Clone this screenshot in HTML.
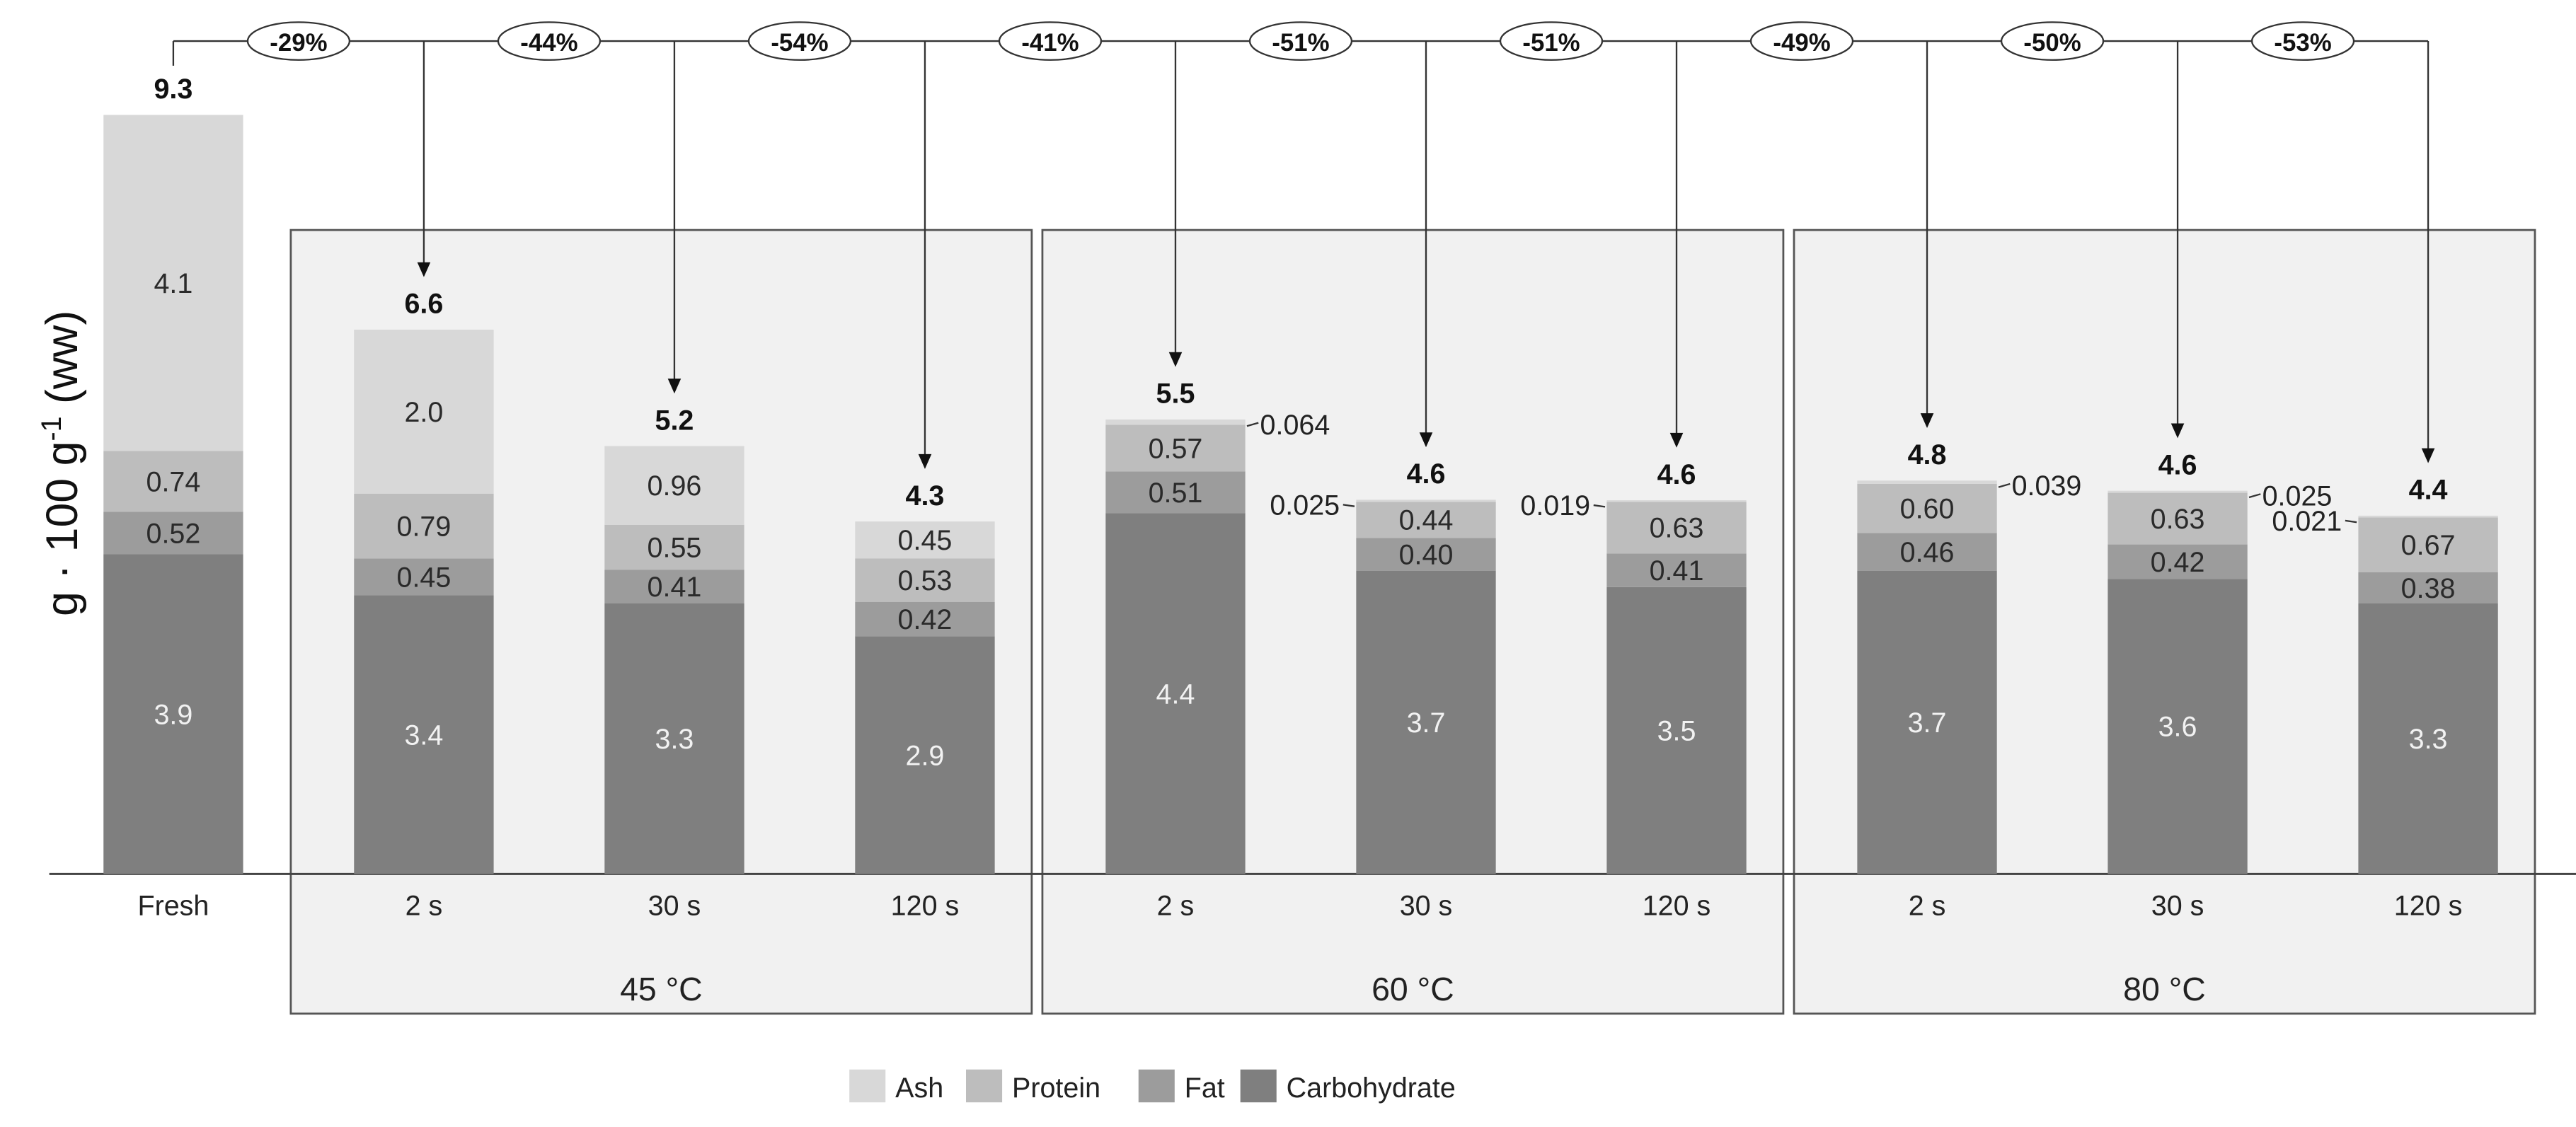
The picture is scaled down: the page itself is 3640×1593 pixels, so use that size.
<!DOCTYPE html>
<html><head><meta charset="utf-8"><style>
html,body{margin:0;padding:0;background:#fff;overflow:hidden;}
svg{display:block;font-family:"Liberation Sans",Arial,sans-serif;}
</style></head><body>
<svg id="chart" width="3640" height="1593" viewBox="0 0 1568 686" preserveAspectRatio="none" xmlns="http://www.w3.org/2000/svg">
<rect x="0" y="0" width="1568" height="686" fill="#fff"/>
<g id="boxes"></g>
<line x1="30" y1="532" x2="1568" y2="532" stroke="#444" stroke-width="1.3"/>
<g id="bars"></g>
<g id="connectors"></g>
<text transform="translate(47,282) rotate(-90)" text-anchor="middle" font-size="27" fill="#111">g · 100 g<tspan dy="-10" font-size="17">-1</tspan><tspan dy="10"> (ww)</tspan></text>
<g id="legend"></g>
</svg>
<script>
const categories = ["Fresh","2 s","30 s","120 s","2 s","30 s","120 s","2 s","30 s","120 s"];
const carbohydrate = [3.9,3.4,3.3,2.9,4.4,3.7,3.5,3.7,3.6,3.3];
const fat = [0.52,0.45,0.41,0.42,0.51,0.40,0.41,0.46,0.42,0.38];
const protein = [0.74,0.79,0.55,0.53,0.57,0.44,0.63,0.60,0.63,0.67];
const ash = [4.1,2.0,0.96,0.45,0.064,0.025,0.019,0.039,0.025,0.021];
const ashLabels = ["4.1","2.0","0.96","0.45","0.064","0.025","0.019","0.039","0.025","0.021"];
const carbLabels = ["3.9","3.4","3.3","2.9","4.4","3.7","3.5","3.7","3.6","3.3"];
const fatLabels = ["0.52","0.45","0.41","0.42","0.51","0.40","0.41","0.46","0.42","0.38"];
const proteinLabels = ["0.74","0.79","0.55","0.53","0.57","0.44","0.63","0.60","0.63","0.67"];
const totals = ["9.3","6.6","5.2","4.3","5.5","4.6","4.6","4.8","4.6","4.4"];
const changes = ["-29%","-44%","-54%","-41%","-51%","-51%","-49%","-50%","-53%"];
const smallAshSide = ["in","in","in","in","right","left","left","right","right","left"];
const groups = ["45 °C","60 °C","80 °C"];

const NS = "http://www.w3.org/2000/svg";
const baseY = 532, unit = 49.9, barW = 85;
const y = v => baseY - v * unit;
const xc = i => i === 0 ? 105.5 : 258 + (i - 1) * 152.5;
function mk(tag, attrs, parent, text) {
  const e = document.createElementNS(NS, tag);
  for (const k in attrs) e.setAttribute(k, attrs[k]);
  if (text !== undefined) e.textContent = text;
  parent.appendChild(e);
  return e;
}
const boxesG = document.getElementById('boxes');
const barsG = document.getElementById('bars');
const connG = document.getElementById('connectors');
const legG = document.getElementById('legend');

groups.forEach((g, gi) => {
  const x0 = xc(1 + gi * 3) - 81, x1 = xc(3 + gi * 3) + 65;
  const r = mk('rect', {x: x0, y: 140, width: x1 - x0, height: 477, fill: '#f1f1f1', stroke: '#555', 'stroke-width': 1.2}, boxesG);
  
  
  const t = mk('text', {x: (x0 + x1) / 2, y: 609, 'text-anchor': 'middle', 'font-size': 20, fill: '#222'}, boxesG, g);
  
  
});

const colors = {carb: '#7f7f7f', fat: '#9c9c9c', protein: '#bdbdbd', ash: '#d8d8d8'};
categories.forEach((c, i) => {
  const cx = xc(i), x0 = cx - barW / 2;
  const segs = [
    ['carb', carbohydrate[i], carbLabels[i], '#f2f2f2'],
    ['fat', fat[i], fatLabels[i], '#2a2a2a'],
    ['protein', protein[i], proteinLabels[i], '#2a2a2a'],
    ['ash', ash[i], ashLabels[i], '#2a2a2a']
  ];
  let cum = 0;
  segs.forEach(([k, v, lab, tc]) => {
    const yt = y(cum + v), yb = y(cum);
    const r = mk('rect', {x: x0, y: yt, width: barW, height: yb - yt, fill: colors[k]}, barsG);
    
    
    if (k === 'ash' && smallAshSide[i] !== 'in') {
      const ly = yt + 3;
      let t;
      if (smallAshSide[i] === 'right') {
        mk('line', {x1: x0 + barW + 1, y1: ly + 1, x2: x0 + barW + 8, y2: ly - 1, stroke: '#333', 'stroke-width': 1}, barsG);
        t = mk('text', {x: x0 + barW + 9, y: ly + 6, 'font-size': 17, fill: '#222'}, barsG, lab);
      } else {
        mk('line', {x1: x0 - 8, y1: ly, x2: x0 - 1, y2: ly + 1, stroke: '#333', 'stroke-width': 1}, barsG);
        t = mk('text', {x: x0 - 10, y: ly + 6, 'font-size': 17, 'text-anchor': 'end', fill: '#222'}, barsG, lab);
      }
      
      
    } else {
      const t = mk('text', {x: cx, y: (yt + yb) / 2 + 6, 'text-anchor': 'middle', 'font-size': 17, fill: tc}, barsG, lab);
      
      
    }
    cum += v;
  });
  const top = y(cum);
  const tt = mk('text', {x: cx, y: top - 10, 'text-anchor': 'middle', 'font-size': 17, 'font-weight': 'bold', fill: '#111'}, barsG, totals[i]);
  
  
  const xl = mk('text', {x: cx, y: 557, 'text-anchor': 'middle', 'font-size': 17, fill: '#222'}, barsG, c);
  
  
  if (i === 0) {
    mk('line', {x1: cx, y1: 25, x2: cx, y2: 40, stroke: '#333', 'stroke-width': 1}, connG);
  } else {
    const tip = top - 32;
    const l = mk('line', {x1: cx, y1: 25, x2: cx, y2: tip - 8, stroke: '#333', 'stroke-width': 1}, connG);
    
    
    const p = mk('polygon', {points: `${cx - 4},${tip - 9} ${cx + 4},${tip - 9} ${cx},${tip}`, fill: '#111'}, connG);
    
    
  }
});
mk('line', {x1: xc(0), y1: 25, x2: xc(9), y2: 25, stroke: '#333', 'stroke-width': 1}, connG);
changes.forEach((ch, j) => {
  const ex = (xc(j) + xc(j + 1)) / 2;
  const e = mk('ellipse', {cx: ex, cy: 25, rx: 31, ry: 11.5, fill: '#fff', stroke: '#333', 'stroke-width': 1}, connG);
  
  
  const t = mk('text', {x: ex, y: 31, 'text-anchor': 'middle', 'font-size': 15, 'font-weight': 'bold', fill: '#111'}, connG, ch);
  
  
});

const legendItems = [['Ash', colors.ash, 517], ['Protein', colors.protein, 588], ['Fat', colors.fat, 693], ['Carbohydrate', colors.carb, 755]];
legendItems.forEach(([n, col, lx]) => {
  const r = mk('rect', {x: lx, y: 651, width: 22, height: 20, fill: col}, legG);
  
  
  const t = mk('text', {x: lx + 28, y: 668, 'font-size': 17, fill: '#222'}, legG, n);
  
  
});
</script>
</body></html>
